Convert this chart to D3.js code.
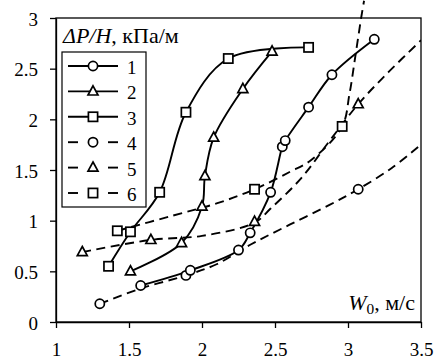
<!DOCTYPE html>
<html>
<head>
<meta charset="utf-8">
<script src="https://cdn.jsdelivr.net/npm/d3@7"></script>
</head>
<body style="margin:0;background:#fff">
<svg id="chart" width="435" height="359" style="display:block"></svg>
<script>
// ---- data ----
const xTicks = [1, 1.5, 2, 2.5, 3, 3.5];
const xTickLabels = ["1", "1.5", "2", "2.5", "3", "3.5"];
const yTicks = [0, 0.5, 1, 1.5, 2, 2.5, 3];
const yTickLabels = ["0", "0.5", "1", "1.5", "2", "2.5", "3"];
const seriesNames = ["1", "2", "3", "4", "5", "6"];

// experimental (solid) series
const s1 = [[1.58,0.36],[1.92,0.51],[2.25,0.71],[2.33,0.88],[2.47,1.28],[2.55,1.73],[2.57,1.79],[2.73,2.12],[2.89,2.44],[3.18,2.79]];
const s2 = [[1.51,0.50],[1.86,0.78],[2.00,1.14],[2.02,1.44],[2.08,1.82],[2.28,2.30],[2.48,2.67]];
const s3 = [[1.36,0.55],[1.51,0.89],[1.71,1.28],[1.89,2.07],[2.18,2.60],[2.73,2.71]];

// calculated (dashed) series: curve and marker points
const s4Curve = [[1.30,0.18],[1.58,0.33],[1.89,0.46],[2.10,0.57],[2.34,0.77],[2.60,0.96],[2.88,1.16],[3.07,1.31],[3.30,1.52],[3.50,1.75]];
const s4Marks = [[1.30,0.18],[1.89,0.46],[3.07,1.31]];
const s5Curve = [[1.18,0.69],[1.65,0.81],[2.00,0.85],[2.36,0.98],[2.47,1.12],[2.68,1.42],[2.87,1.78],[3.07,2.15],[3.28,2.47],[3.50,2.78]];
const s5Marks = [[1.18,0.69],[1.65,0.81],[2.36,0.99],[3.07,2.15]];
const s6Curve = [[1.42,0.90],[1.80,1.05],[2.10,1.17],[2.36,1.31],[2.60,1.48],[2.75,1.60],[2.96,1.93],[3.01,2.25],[3.05,2.62],[3.09,3.00],[3.11,3.17]];
const s6Marks = [[1.42,0.90],[2.36,1.31],[2.96,1.93]];

// ---- layout ----
const FONT = "'Liberation Serif', 'DejaVu Serif', serif";
const svg = d3.select("#chart").attr("font-family", FONT);
const X0 = 56, X1 = 421, Y0 = 322, Y1 = 18;
const x = d3.scaleLinear().domain([1, 3.5]).range([X0, X1]);
const y = d3.scaleLinear().domain([0, 3]).range([Y0, Y1]);
const FS = 19;       // tick / legend font size
const LFS = 20;      // axis label font size
const LSX = 1.1;     // axis label horizontal stretch

// clip
svg.append("defs").append("clipPath").attr("id", "clip")
  .append("rect").attr("x", X0).attr("y", 0).attr("width", X1 - X0).attr("height", Y0);

// axes
const xAxis = d3.axisBottom(x).tickValues(xTicks)
  .tickFormat((d, i) => xTickLabels[i]).tickSize(6).tickSizeOuter(0);
const gx = svg.append("g").attr("transform", `translate(0,${Y0})`).call(xAxis);
gx.attr("font-family", FONT).attr("font-size", FS);
gx.selectAll("text").attr("y", 34).attr("dy", 0)
  .attr("font-family", FONT).attr("font-size", FS);

const yAxis = d3.axisLeft(y).tickValues(yTicks)
  .tickFormat((d, i) => yTickLabels[i]).tickSize(6).tickSizeOuter(0);
const gy = svg.append("g").attr("transform", `translate(${X0},0)`).call(yAxis);
gy.attr("font-family", FONT).attr("font-size", FS);
gy.selectAll("text").attr("x", -18).attr("y", 7).attr("dy", 0)
  .attr("font-family", FONT).attr("font-size", FS);
svg.selectAll(".domain, .tick line").attr("stroke", "#000").attr("stroke-width", 1.3);

// frame
svg.append("rect").attr("x", X0).attr("y", Y1).attr("width", X1 - X0).attr("height", Y0 - Y1)
  .attr("fill", "none").attr("stroke", "#000").attr("stroke-width", 1.3);

// marker drawers
function marker(g, type, cx, cy) {
  if (type === "circle") {
    g.append("circle").attr("cx", cx).attr("cy", cy).attr("r", 4.6)
      .attr("fill", "#fff").attr("stroke", "#000").attr("stroke-width", 1.7);
  } else if (type === "square") {
    g.append("rect").attr("x", cx - 4.6).attr("y", cy - 4.6).attr("width", 9.2).attr("height", 9.2)
      .attr("fill", "#fff").attr("stroke", "#000").attr("stroke-width", 1.7);
  } else {
    g.append("path").attr("d", `M${cx},${cy - 5.6}L${cx + 5},${cy + 3.6}L${cx - 5},${cy + 3.6}Z`)
      .attr("fill", "#fff").attr("stroke", "#000").attr("stroke-width", 1.7).attr("stroke-linejoin", "miter");
  }
}

const line = d3.line().x(d => x(d[0])).y(d => y(d[1])).curve(d3.curveCatmullRom.alpha(0.5));
const plot = svg.append("g");

const dashed = [
  { curve: s4Curve, marks: s4Marks, type: "circle" },
  { curve: s5Curve, marks: s5Marks, type: "triangle" },
  { curve: s6Curve, marks: s6Marks, type: "square" }
];
const solid = [
  { data: s1, type: "circle" },
  { data: s2, type: "triangle" },
  { data: s3, type: "square" }
];

dashed.forEach(s => {
  plot.append("path").datum(s.curve).attr("d", line)
    .attr("fill", "none").attr("stroke", "#000").attr("stroke-width", 1.9)
    .attr("stroke-dasharray", "9,5.5").attr("clip-path", "url(#clip)");
});
solid.forEach(s => {
  plot.append("path").datum(s.data).attr("d", line)
    .attr("fill", "none").attr("stroke", "#000").attr("stroke-width", 1.9);
});
dashed.forEach(s => s.marks.forEach(d => marker(plot, s.type, x(d[0]), y(d[1]))));
solid.forEach(s => s.data.forEach(d => marker(plot, s.type, x(d[0]), y(d[1]))));

// title (y-axis label inside plot)
const title = svg.append("text").attr("transform", `translate(63,43) scale(${LSX},1)`)
  .attr("font-family", FONT).attr("font-size", LFS);
title.append("tspan").attr("font-style", "italic").text("ΔP/H");
title.append("tspan").text(", кПа/м");

// x label
const xl = svg.append("text").attr("transform", `translate(415,310) scale(${LSX},1)`)
  .attr("text-anchor", "end").attr("font-family", FONT).attr("font-size", LFS);
xl.append("tspan").attr("font-style", "italic").text("W");
xl.append("tspan").attr("dy", 4).attr("font-size", 14).text("0");
xl.append("tspan").attr("dy", -4).text(", м/с");

// legend
const lg = svg.append("g");
lg.append("rect").attr("x", 62).attr("y", 52).attr("width", 84).attr("height", 155)
  .attr("fill", "#fff").attr("stroke", "#000").attr("stroke-width", 1.2);
const legendTypes = ["circle", "triangle", "square", "circle", "triangle", "square"];
seriesNames.forEach((name, i) => {
  const ry = 66 + i * 25.4;
  if (i < 3) {
    lg.append("line").attr("x1", 68).attr("x2", 118).attr("y1", ry).attr("y2", ry)
      .attr("stroke", "#000").attr("stroke-width", 1.9);
  } else {
    [[68, 78], [108, 118]].forEach(seg => lg.append("line").attr("x1", seg[0]).attr("x2", seg[1])
      .attr("y1", ry).attr("y2", ry).attr("stroke", "#000").attr("stroke-width", 1.9));
  }
  marker(lg, legendTypes[i], 93, ry);
  lg.append("text").attr("x", 127).attr("y", ry + 8)
    .attr("font-family", FONT).attr("font-size", FS).text(name);
});
</script>
</body>
</html>
